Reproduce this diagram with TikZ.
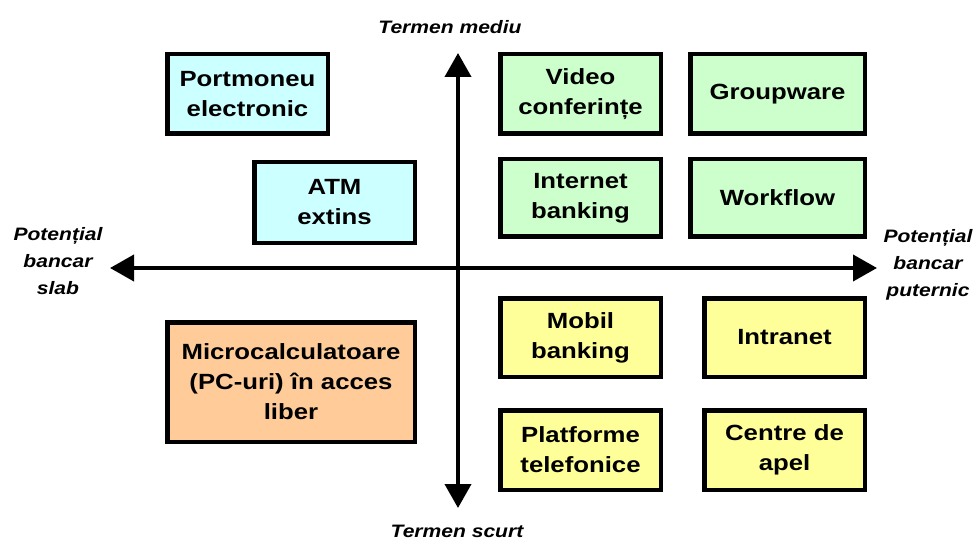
\documentclass[tikz,border=0pt]{standalone}
\usepackage{fontspec}
\usetikzlibrary{arrows.meta}
\newfontfamily\boxfont{Liberation Sans}[FakeStretch=1.17]
\definecolor{cyanfill}{HTML}{CCFFFF}
\definecolor{greenfill}{HTML}{CCFFCC}
\definecolor{yellowfill}{HTML}{FFFF99}
\definecolor{orangefill}{HTML}{FFCC99}
\begin{document}
\begin{tikzpicture}[x=1pt,y=-1pt,
  itembox/.style={draw=black, line width=4.5pt, inner sep=0pt, align=center,
    font=\boxfont\bfseries\fontsize{22}{30}\selectfont},
  axisline/.style={line width=4pt, {Triangle[width=26pt,length=24pt]}-{Triangle[width=26pt,length=24pt]}},
  axislabel/.style={align=center, inner sep=0pt,
    font=\boxfont\bfseries\itshape\fontsize{18}{27}\selectfont}]
\useasboundingbox[fill=white] (0,0) rectangle (977,540);
% axes
\coordinate (top) at (458,53);
\coordinate (bot) at (458,508);
\coordinate (lft) at (110,268);
\coordinate (rgt) at (877,268);
\draw[axisline] (bot) -- (top);
\draw[axisline] (lft) -- (rgt);
% axis labels
\node[axislabel, anchor=base] (tm) at (450,34) {Termen mediu};
\node[axislabel, anchor=base] (ts) at (457,537) {Termen scurt};
\node[axislabel] (pslab) at (58,261.5) {Potențial\\bancar\\slab};
\node[axislabel] (pput) at (928,264.5) {Potențial\\bancar\\puternic};
% boxes
\node[itembox, fill=cyanfill, minimum width=160.5pt, minimum height=79.5pt] (portm) at (247.5,94) {Portmoneu\\electronic};
\node[itembox, fill=cyanfill, minimum width=160.5pt, minimum height=80.5pt] (atm) at (334.5,202.5) {ATM\\extins};
\node[itembox, fill=orangefill, minimum width=247.5pt, minimum height=119.5pt] (micro) at (291,382) {Microcalculatoare\\(PC-uri) în acces\\liber};
\node[itembox, fill=greenfill, minimum width=160.5pt, minimum height=79.5pt] (video) at (580.5,94) {Video\\conferințe};
\node[itembox, fill=greenfill, minimum width=174.5pt, minimum height=79.5pt] (group) at (777.5,94) {Groupware};
\node[itembox, fill=greenfill, minimum width=160.5pt, minimum height=77.5pt] (inet) at (580.5,198) {Internet\\banking};
\node[itembox, fill=greenfill, minimum width=174.5pt, minimum height=77.5pt] (workf) at (777.5,198) {Workflow};
\node[itembox, fill=yellowfill, minimum width=160.5pt, minimum height=78.5pt] (mobil) at (580.5,337.5) {Mobil\\banking};
\node[itembox, fill=yellowfill, minimum width=160.5pt, minimum height=78.5pt] (intra) at (784.5,337.5) {Intranet};
\node[itembox, fill=yellowfill, minimum width=160.5pt, minimum height=79.5pt] (platf) at (580.5,450) {Platforme\\telefonice};
\node[itembox, fill=yellowfill, minimum width=160.5pt, minimum height=79.5pt] (centre) at (784.5,450) {Centre de\\apel};
\end{tikzpicture}
\end{document}
